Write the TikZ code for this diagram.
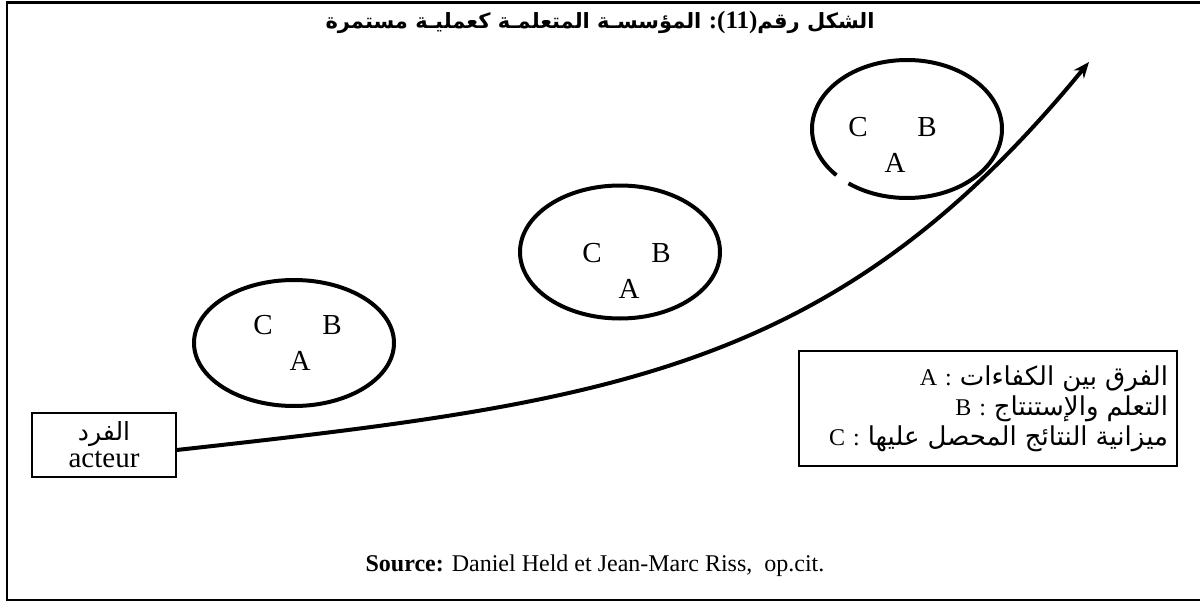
\documentclass[tikz,border=0pt]{standalone}
\usepackage{fontspec}
\setmainfont{Liberation Serif}
\newfontfamily\arabicfont[Script=Arabic]{DejaVu Sans}
\TeXXeTstate=1
\usetikzlibrary{arrows.meta, positioning, shapes.geometric}
\newcommand{\artext}[1]{{\arabicfont\beginR #1\endR}}

\begin{document}
\begin{tikzpicture}[
        x=1pt, y=1pt,
        >=Stealth,
        ring/.style={draw, ellipse, line width=4pt, minimum width=200pt, minimum height=126pt, inner sep=0pt},
        letter/.style={font=\fontsize{29}{32}\selectfont, inner sep=0pt},
        box/.style={draw, line width=1.3pt, align=center, inner sep=0pt},
        flow/.style={line width=4pt, -{Stealth[length=16pt, width=13pt]}},
        frame/.style={line width=2.2pt}
    ]
        \useasboundingbox (0,0) rectangle (1200,-602);
        \draw[frame] (1200,-2.5) -- (7,-2.5) -- (7,-600) -- (1200,-600);

        \node (title) at (600,-22) {\fontsize{21}{24}\selectfont\bfseries\arabicfont\beginR الشكل رقم\beginL{\rmfamily\bfseries\fontsize{25}{24}\selectfont:(11)}\endL{} المؤسسـة المتعلمـة كعمليـة مستمرة\endR};

        % three rings
        \node[ring] (e1) at (294,-343) {};
        \node[ring, minimum height=133pt] (e2) at (620,-252) {};
        \node[ring, draw=none, minimum width=190pt, minimum height=138pt] (e3) at (907,-129) {};
        \draw[line width=4pt] (e3.center) ++(232:95 and 69) arc[start angle=232, end angle=582, x radius=95, y radius=69];

        \foreach \i/\x/\y in {1/263/325, 2/592/253, 3/858/127} {
            \node[letter] (c\i) at (\x,-\y) {C};
            \node[letter] (b\i) at ([xshift=69pt]c\i) {B};
            \node[letter] (a\i) at ([xshift=37pt, yshift=-36pt]c\i) {A};
        }

        \node[box, minimum width=144pt, minimum height=64pt, font=\fontsize{29}{27}\selectfont] (act) at (104,-445) {{\fontsize{25}{25}\selectfont\artext{الفرد}}\\acteur};

        \node[box, minimum width=378pt, minimum height=115pt, text width=360pt, align=right, font=\fontsize{24}{30}\selectfont] (key) at (988,-408.5) {A : {\fontsize{26}{30}\selectfont\artext{الفرق بين الكفاءات}}\\B : {\fontsize{26}{30}\selectfont\artext{التعلم والإستنتاج}}\\C : {\fontsize{26}{30}\selectfont\artext{ميزانية النتائج المحصل عليها}}};

        \coordinate (tip) at (1089,-62);
        \draw[flow] ([yshift=-5pt]act.east) .. controls (611,-402) and (835,-372) .. (tip);

        \node[font=\fontsize{24}{26}\selectfont] (src) at (595,-566) {\textbf{Source:} Daniel Held et Jean-Marc Riss,\ \ op.cit.};
    \end{tikzpicture}
\end{document}
